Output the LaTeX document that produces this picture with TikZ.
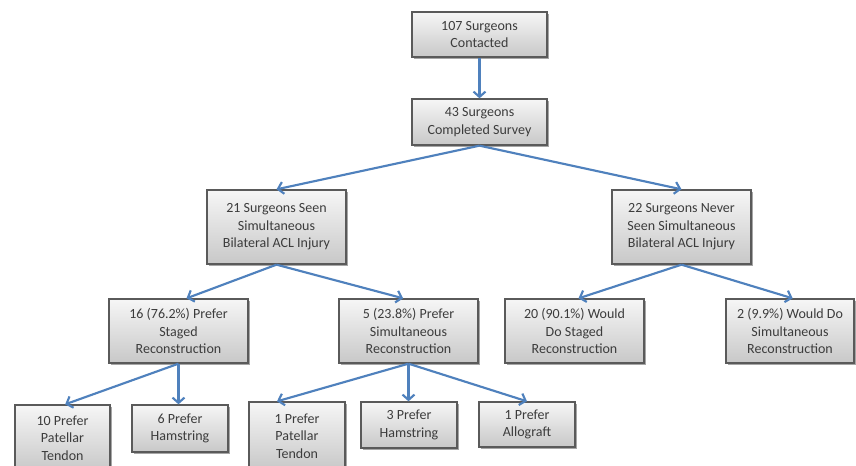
\documentclass[tikz,border=0pt]{standalone}
\usepackage{fontspec}
\setmainfont{Carlito}
\usetikzlibrary{arrows.meta,shadows}
\definecolor{arrowblue}{RGB}{79,129,189}
\definecolor{boxline}{RGB}{90,90,90}
\definecolor{txt}{RGB}{60,60,60}
\definecolor{topfill}{RGB}{246,246,246}
\definecolor{botfill}{RGB}{200,200,200}
\begin{document}
\begin{tikzpicture}[x=0.75pt,y=-0.75pt,
  box/.style={draw=boxline, line width=1pt, top color=topfill, bottom color=botfill,
    drop shadow={shadow xshift=1.5pt, shadow yshift=-1.5pt, opacity=0.35, fill=black},
    align=center, text=txt, font=\fontsize{10.5}{13.2}\selectfont, inner sep=0pt},
  link/.style={draw=arrowblue, line width=1.6pt, -{Straight Barb[length=4pt,width=9pt,line width=1.6pt]}}
]
\clip (0,0) rectangle (856,465);
\useasboundingbox (0,0) rectangle (856,465);
\fill[white] (0,0) rectangle (856,465);
% level 1-2
\node[box, minimum width=101.25pt, minimum height=33.75pt] (n1) at (479.5,34.5) {107 Surgeons\\Contacted};
\node[box, minimum width=101.25pt, minimum height=34.5pt] (n2) at (479.5,122) {43 Surgeons\\Completed Survey};
% level 3
\node[box, minimum width=104.25pt, minimum height=55.5pt] (n21) at (276.5,227) {21 Surgeons Seen\\Simultaneous\\Bilateral ACL Injury};
\node[box, minimum width=104.25pt, minimum height=55.5pt] (n22) at (681.5,227) {22 Surgeons Never\\Seen Simultaneous\\Bilateral ACL Injury};
% level 4
\node[box, minimum width=104.25pt, minimum height=48pt] (n16) at (178.5,331) {16 (76.2\%) Prefer\\Staged\\Reconstruction};
\node[box, minimum width=104.25pt, minimum height=48pt] (n5) at (408.5,331) {5 (23.8\%) Prefer\\Simultaneous\\Reconstruction};
\node[box, minimum width=104.25pt, minimum height=48pt] (n20) at (574.5,331) {20 (90.1\%) Would\\Do Staged\\Reconstruction};
\node[box, minimum width=96pt, minimum height=48pt] (n2b) at (790,331) {2 (9.9\%) Would Do\\Simultaneous\\Reconstruction};
% level 5
\node[box, minimum width=71.25pt, minimum height=49.5pt] (n10) at (62.5,438) {10 Prefer\\Patellar\\Tendon};
\node[box, minimum width=72pt, minimum height=35.25pt] (n6) at (180,428.5) {6 Prefer\\Hamstring};
\node[box, minimum width=72pt, minimum height=51pt] (n1p) at (297,436) {1 Prefer\\Patellar\\Tendon};
\node[box, minimum width=72pt, minimum height=34.5pt] (n3) at (409,425) {3 Prefer\\Hamstring};
\node[box, minimum width=72pt, minimum height=33.75pt] (n1a) at (527,424.5) {1 Prefer\\Allograft};
% connectors
\draw[link] (n1.south) -- (n2.north);
\draw[link] (n2.south) -- (n21.north);
\draw[link] (n2.south) -- (n22.north);
\draw[link] (n21.south) -- ([xshift=6pt]n16.north);
\draw[link] (n21.south) -- ([xshift=-4pt]n5.north);
\draw[link] (n22.south) -- ([xshift=3pt]n20.north);
\draw[link] (n22.south) -- ([xshift=2pt]n2b.north);
\draw[link] (n16.south) -- ([xshift=2pt]n10.north);
\draw[link] (n16.south) -- (n16.south |- n6.north);
\draw[link] (n5.south) -- ([xshift=-15pt]n1p.north);
\draw[link] (n5.south) -- (n5.south |- n3.north);
\draw[link] (n5.south) -- (n1a.north);
\end{tikzpicture}
\end{document}
